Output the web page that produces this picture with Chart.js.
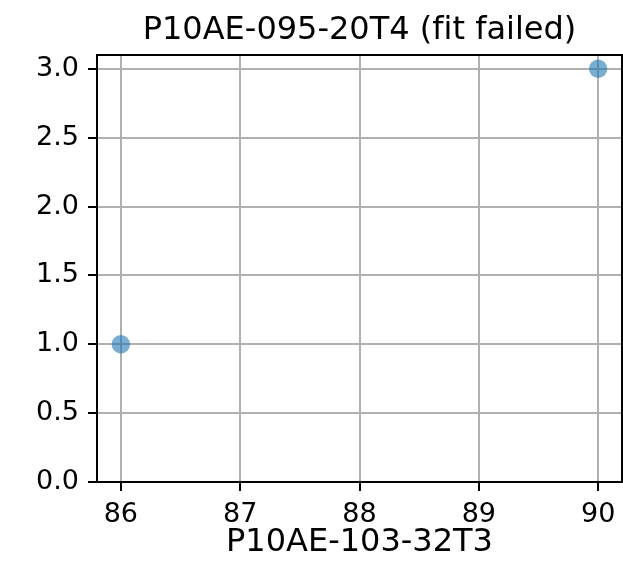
<!DOCTYPE html>
<html>
<head>
<meta charset="utf-8">
<title>P10AE-095-20T4</title>
<script src="https://cdn.jsdelivr.net/npm/chart.js@4.4.1/dist/chart.umd.min.js"></script>
<style>
  html, body { margin: 0; padding: 0; background: #fff; }
  canvas { display: block; }
</style>
</head>
<body>
<canvas id="chart" width="623" height="562"></canvas>
<script>
// scatter data
const xValues = [86, 90];
const yValues = [1, 3];
const xTicks = [86, 87, 88, 89, 90];
const yTicks = [0, 0.5, 1.0, 1.5, 2.0, 2.5, 3.0];
// zero-width non-joiner keeps "fi" from turning into a ligature
const titleText = "P10AE-095-20T4 (f\u200Cit failed)";
const xLabel = "P10AE-103-32T3";

const FONT = "'DejaVu Sans', sans-serif";

// top and right spines (chart.js only draws the axis borders)
const frame = {
    id: "frame",
    afterDraw: function(chart) {
        const a = chart.chartArea;
        const ctx = chart.ctx;
        ctx.save();
        ctx.strokeStyle = "#000";
        ctx.lineWidth = 2;
        ctx.strokeRect(a.left, a.top, a.right - a.left, a.bottom - a.top);
        ctx.restore();
    }
};

const points = xValues.map(function(x, i) { return {x: x, y: yValues[i]}; });

new Chart(document.getElementById("chart").getContext("2d"), {
    type: "scatter",
    data: {
        datasets: [{
            data: points,
            backgroundColor: "rgba(31,119,180,0.6)",
            borderWidth: 0,
            pointRadius: 9.2,
            pointHoverRadius: 9.2
        }]
    },
    options: {
        responsive: false,
        animation: false,
        layout: {
            autoPadding: false,
            padding: { left: 0, right: 1, top: 0, bottom: 0 }
        },
        plugins: {
            legend: { display: false },
            tooltip: { enabled: false },
            title: {
                display: true,
                fullSize: false,   // center over the plot area
                text: titleText,
                color: "#000",
                font: { family: FONT, size: 32, weight: "normal", lineHeight: 1.2 },
                padding: { top: 11.5, bottom: 5.1 }
            }
        },
        scales: {
            x: {
                type: "linear",
                min: 85.8,
                max: 90.2,
                z: 1,
                afterBuildTicks: function(scale) {
                    scale.ticks = xTicks.map(function(v) { return {value: v}; });
                },
                afterFit: function(scale) {
                    scale.height = 80;
                    scale.paddingLeft = 0;
                    scale.paddingRight = 0;
                },
                ticks: {
                    color: "#000",
                    font: { family: FONT, size: 27 },
                    padding: 8,
                    maxRotation: 0,
                    autoSkip: false,
                    callback: function(v) { return String(v); }
                },
                grid: {
                    color: "#b0b0b0",
                    lineWidth: 2,
                    drawTicks: true,
                    tickLength: 9,
                    tickColor: "#000",
                    tickWidth: 2
                },
                border: { display: true, color: "#000", width: 2 },
                title: {
                    display: true,
                    text: xLabel,
                    color: "#000",
                    font: { family: FONT, size: 32, lineHeight: 1.0 },
                    padding: { top: 0, bottom: 3 }
                }
            },
            y: {
                type: "linear",
                min: 0,
                max: 3.1,
                z: 1,
                afterBuildTicks: function(scale) {
                    scale.ticks = yTicks.map(function(v) { return {value: v}; });
                },
                afterFit: function(scale) { scale.width = 97; },
                ticks: {
                    color: "#000",
                    font: { family: FONT, size: 27 },
                    padding: 9,
                    autoSkip: false,
                    callback: function(v) { return Number(v).toFixed(1); }
                },
                grid: {
                    color: "#b0b0b0",
                    lineWidth: 2,
                    drawTicks: true,
                    tickLength: 9,
                    tickColor: "#000",
                    tickWidth: 2
                },
                border: { display: true, color: "#000", width: 2 }
            }
        }
    },
    plugins: [frame]
});
</script>
</body>
</html>
